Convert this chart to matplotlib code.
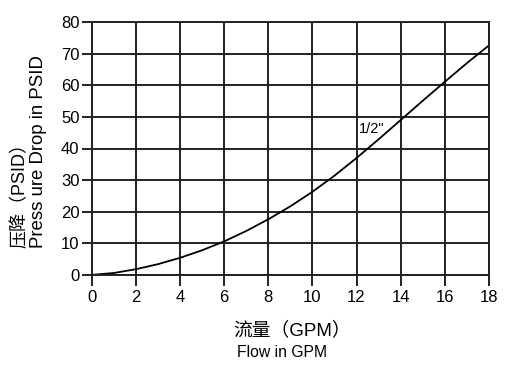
import matplotlib
matplotlib.use('Agg')
import matplotlib.pyplot as plt

# flow (GPM) vs pressure drop (PSID)
flow = [0, 1, 2, 3, 4, 5, 6, 7, 8, 9, 10, 11, 12, 13, 14, 15, 16, 17, 18]
pressure = [0, 0.6, 1.8, 3.4, 5.4, 7.8, 10.6, 13.9, 17.6, 21.7, 26.3,
            31.4, 37.0, 42.9, 49.0, 55.1, 61.1, 67.0, 72.6]

x_ticks = [0, 2, 4, 6, 8, 10, 12, 14, 16, 18]
y_ticks = [0, 10, 20, 30, 40, 50, 60, 70, 80]

curve_label = '1/2"'

fonts = ['Liberation Sans', 'Noto Sans CJK SC', 'DejaVu Sans']
plt.rcParams['font.family'] = fonts

fig = plt.figure(figsize=(5.05, 3.75), dpi=100)
ax = fig.add_axes([0.182, 0.267, 0.786, 0.674])

ax.plot(flow, pressure, color='black', linewidth=1.3)

ax.set_xlim(0, 18)
ax.set_ylim(0, 80)
ax.set_xticks(x_ticks)
ax.set_yticks(y_ticks)
ax.grid(True, color='#222222', linewidth=1.4)
ax.set_axisbelow(True)

for side in ['top', 'right', 'left', 'bottom']:
    ax.spines[side].set_linewidth(1.4)
    ax.spines[side].set_color('#222222')

ax.tick_params(direction='out', length=8, width=1.4, color='#222222',
               labelsize=12, pad=3)
ax.tick_params(axis='y', length=7, pad=2)

ax.text(12.1, 46.3, curve_label, fontsize=10.5, va='center')

# axis titles
fig.text(0.040, 0.339, '压降（PSID）', rotation=90, ha='center', va='bottom',
         fontsize=13)
fig.text(0.077, 0.339, 'Press ure Drop in PSID', rotation=90, ha='center',
         va='bottom', fontsize=13.4)
fig.text(0.461, 0.118, '流量（GPM）', ha='left', va='center', fontsize=13.5)
fig.text(0.469, 0.061, 'Flow in GPM', ha='left', va='center', fontsize=11.3)

fig.savefig('out.png', dpi=100)
